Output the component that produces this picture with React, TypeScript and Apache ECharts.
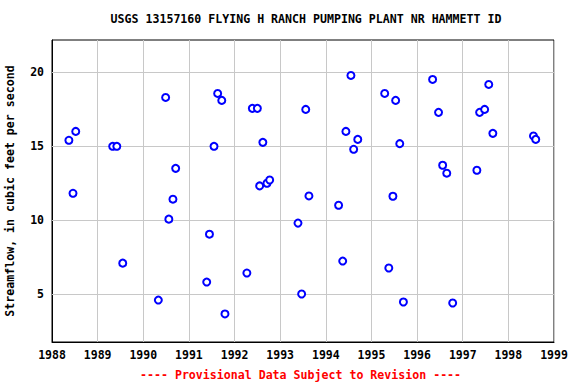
import React, { useEffect, useRef } from "react";
import * as echarts from "echarts";

const titleText = "USGS 13157160 FLYING H RANCH PUMPING PLANT NR HAMMETT ID";
const yAxisName = "Streamflow, in cubic feet per second";
const footerText = "---- Provisional Data Subject to Revision ----";
const yTicks = [5, 10, 15, 20];

// decimal year of each measurement
const dates = [
  1988.37, 1988.52, 1988.46, 1989.33, 1989.42, 1989.55,
  1990.49, 1990.71, 1990.65, 1990.56, 1990.33,
  1991.45, 1991.39, 1991.55, 1991.63, 1991.72, 1991.79,
  1992.27, 1992.39, 1992.5, 1992.62, 1992.55, 1992.71, 1992.77,
  1993.39, 1993.47, 1993.56, 1993.63,
  1994.55, 1994.44, 1994.7, 1994.61, 1994.28, 1994.37,
  1995.29, 1995.53, 1995.62, 1995.47, 1995.38, 1995.7,
  1996.34, 1996.47, 1996.56, 1996.65, 1996.78,
  1997.57, 1997.37, 1997.48, 1997.66, 1997.31,
  1998.55, 1998.6,
];
// streamflow, cfs
const flows = [
  15.41, 16.01, 11.82, 15.0, 15.0, 7.09,
  18.31, 13.51, 11.42, 10.07, 4.59,
  9.05, 5.81, 15.0, 18.58, 18.11, 3.65,
  6.42, 17.57, 17.57, 15.27, 12.32, 12.5, 12.72,
  9.8, 5.0, 17.5, 11.64,
  19.8, 16.01, 15.47, 14.8, 11.01, 7.23,
  18.58, 18.11, 15.18, 11.62, 6.76, 4.46,
  19.53, 17.3, 13.72, 13.18, 4.39,
  19.19, 17.3, 17.5, 15.88, 13.38,
  15.7, 15.47,
];

const FONT = "DejaVu Sans Mono";

export default function App() {
  const ref = useRef<HTMLDivElement>(null);
  useEffect(() => {
    if (!ref.current) return;
    const chart = echarts.init(ref.current, null, { renderer: "svg" });
    const points = dates.map((d, i) => [d, flows[i]]);
    chart.setOption({
      animation: false,
      backgroundColor: "#ffffff",
      title: {
        text: titleText,
        left: 301,
        top: 8,
        textAlign: "center",
        textStyle: { fontFamily: FONT, fontSize: 11.6, fontWeight: "bold", color: "#000" },
      },
      graphic: [
        {
          type: "text",
          left: 140,
          top: 369,
          style: {
            text: footerText,
            fill: "#ff0000",
            font: `bold 11.6px ${FONT}`,
          },
        },
      ],
      grid: {
        left: 52,
        right: 22,
        top: 40,
        bottom: 42,
        outerBoundsMode: "none",
        containLabel: false,
        show: true,
        borderColor: "#000",
        borderWidth: 1,
        backgroundColor: "transparent",
      },
      xAxis: {
        type: "value",
        min: 1988,
        max: 1999,
        interval: 1,
        axisLine: { show: true, lineStyle: { color: "#000", width: 1 } },
        axisTick: { show: false },
        splitLine: { show: true, lineStyle: { color: "#c8c8c8", width: 1 } },
        axisLabel: {
          fontFamily: FONT,
          fontSize: 11.5,
          fontWeight: "bold",
          color: "#000",
          margin: 7,
          formatter: (v: number) => String(v),
        },
      },
      yAxis: {
        type: "value",
        min: 1.75,
        max: 22.2,
        name: yAxisName,
        nameLocation: "middle",
        nameGap: 36,
        nameTextStyle: { fontFamily: FONT, fontSize: 11.6, fontWeight: "bold", color: "#000" },
        axisLine: { show: true, lineStyle: { color: "#000", width: 1 } },
        axisTick: { show: false, customValues: yTicks },
        splitLine: { show: false },
        axisLabel: {
          customValues: yTicks,
          fontFamily: FONT,
          fontSize: 11.5,
          fontWeight: "bold",
          color: "#000",
          margin: 8,
        },
      },
      series: [
        {
          type: "scatter",
          data: points,
          symbol: "emptyCircle",
          symbolSize: 7,
          itemStyle: { color: "#0000ff", borderColor: "#0000ff", borderWidth: 1.5, opacity: 1 },
          z: 3,
          markLine: {
            silent: true,
            symbol: ["none", "none"],
            label: { show: false },
            lineStyle: { color: "#c8c8c8", width: 1, type: "solid" },
            z: 1,
            data: yTicks.map((v) => ({ yAxis: v })),
          },
        },
      ],
    });
    return () => chart.dispose();
  }, []);
  return (
    <div
      ref={ref}
      style={{ position: "absolute", left: 0, top: 0, width: 576, height: 384 }}
    />
  );
}
